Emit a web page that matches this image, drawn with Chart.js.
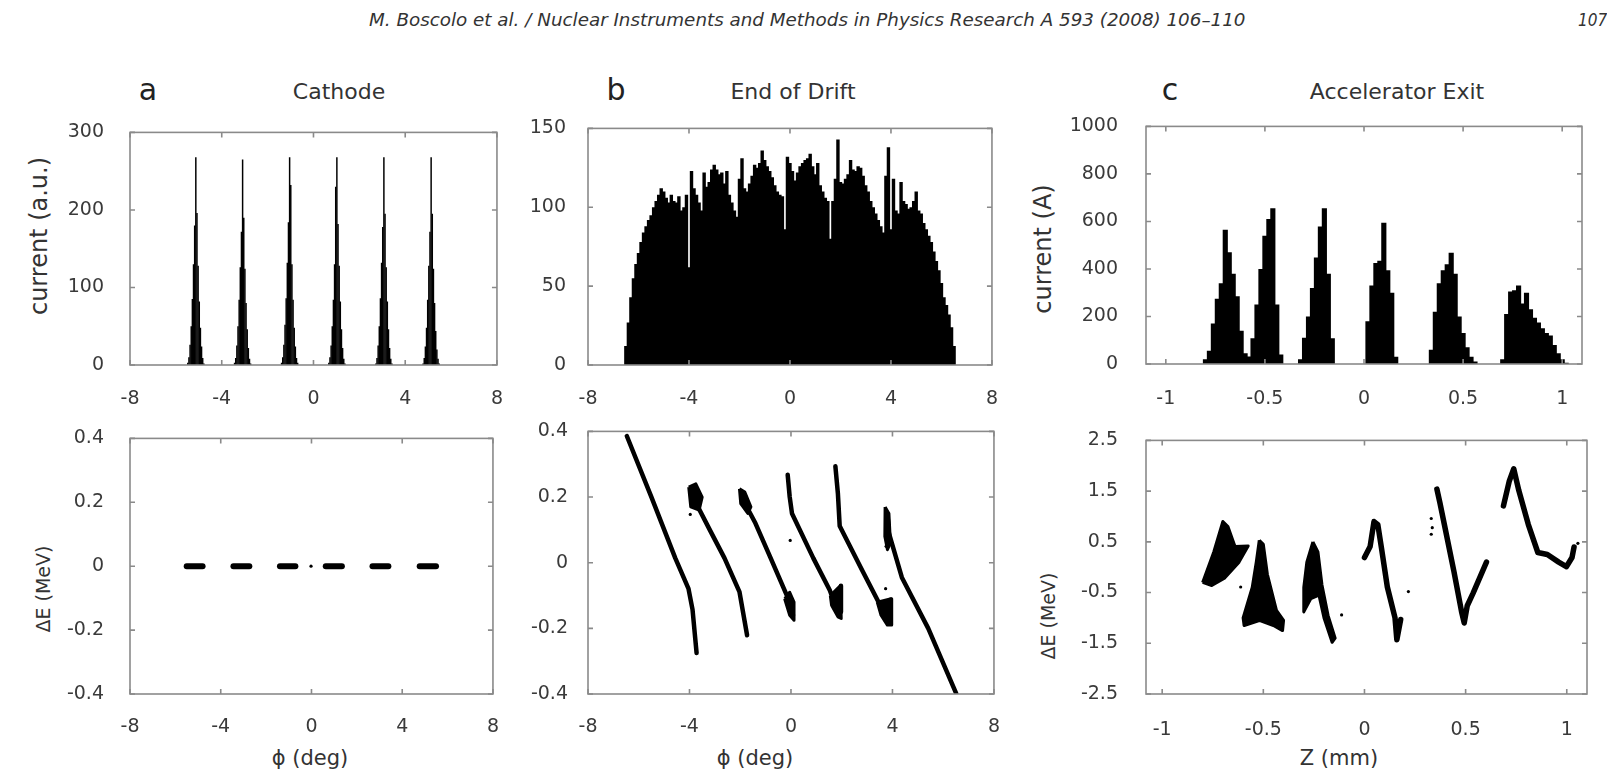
<!DOCTYPE html>
<html>
<head>
<meta charset="utf-8">
<script src="https://cdn.jsdelivr.net/npm/chart.js@4.4.0/dist/chart.umd.min.js"></script>
<style>
  body { margin: 0; background: #fff; width: 1607px; height: 773px; overflow: hidden; position: relative; font-family: "DejaVu Sans", sans-serif; }
  canvas { position: absolute; }
  .lbl { position: absolute; transform: translate(-50%, -50%); white-space: nowrap; color: #333; line-height: 1; }
  .rot { transform: translate(-50%, -50%) rotate(-90deg); }
  .head { position: absolute; white-space: nowrap; font-style: italic; color: #333; line-height: 1;
          font-family: "Liberation Sans Narrow", "DejaVu Sans Condensed", "Liberation Sans", sans-serif; font-size: 17px; transform-origin: 0 50%; }
</style>
</head>
<body>

<div class="head" id="header" style="left:369px; top:12px;">M. Boscolo et al. / Nuclear Instruments and Methods in Physics Research A 593 (2008) 106–110</div>
<div class="head" style="left:1578px; top:12px;">107</div>

<!-- panel letters and titles -->
<div class="lbl" style="left:148px; top:90px; font-size:30px; color:#222;">a</div>
<div class="lbl" style="left:339px; top:92px; font-size:22px;">Cathode</div>
<div class="lbl" style="left:616px; top:90px; font-size:30px; color:#222;">b</div>
<div class="lbl" style="left:793px; top:92px; font-size:22px;">End of Drift</div>
<div class="lbl" style="left:1170px; top:90px; font-size:30px; color:#222;">c</div>
<div class="lbl" style="left:1397px; top:92px; font-size:22px;">Accelerator Exit</div>

<!-- axis titles -->
<div class="lbl rot" style="left:39px; top:236px; font-size:24px;">current (a.u.)</div>
<div class="lbl rot" style="left:1043px; top:249px; font-size:24px;">current (A)</div>
<div class="lbl rot" style="left:43px; top:589px; font-size:19px;">ΔE (MeV)</div>
<div class="lbl rot" style="left:1048px; top:616px; font-size:19px;">ΔE (MeV)</div>
<div class="lbl" style="left:310px; top:758px; font-size:21px;">ϕ (deg)</div>
<div class="lbl" style="left:755px; top:758px; font-size:21px;">ϕ (deg)</div>
<div class="lbl" style="left:1339px; top:758px; font-size:21px;">Z (mm)</div>

<script>
// Tick values
const phiTicks = [-8, -4, 0, 4, 8];
const zTicks = [-1, -0.5, 0, 0.5, 1];
const cathodeCurrentTicks = [0, 100, 200, 300];
const driftCurrentTicks = [0, 50, 100, 150];
const accelCurrentTicks = [0, 200, 400, 600, 800, 1000];
const phiEnergyTicks = [-0.4, -0.2, 0, 0.2, 0.4];
const zEnergyTicks = [-2.5, -1.5, -0.5, 0.5, 1.5, 2.5];

// (a) Cathode: six bunchlets, 15 bins of 0.05 deg around each centre
const cathodeCenters = [-5.13, -3.09, -1.04, 1.02, 3.07, 5.13];
const cathodeBinWidth = 0.05;
const cathodeCounts = [
    [3, 10, 26, 50, 85, 130, 180, 268, 196, 128, 82, 48, 24, 9, 2],
    [3, 9, 25, 50, 84, 126, 172, 265, 190, 124, 80, 46, 22, 8, 2],
    [3, 10, 26, 52, 86, 132, 184, 268, 232, 130, 84, 48, 24, 9, 3],
    [3, 10, 25, 50, 84, 130, 230, 268, 182, 128, 82, 46, 22, 8, 2],
    [2, 9, 25, 50, 86, 132, 178, 268, 195, 126, 82, 46, 22, 8, 2],
    [2, 9, 24, 48, 84, 128, 172, 268, 195, 124, 80, 44, 20, 8, 2]
];

// (b) End of drift: bins of 0.1 deg from -6.5 to 6.5
const driftBinStart = -6.5;
const driftBinWidth = 0.1;
const driftCounts = [
    12, 27, 43, 55, 64, 71, 78, 84, 88, 92,
    95, 100, 104, 108, 112, 110, 106, 103, 108, 104,
    103, 107, 98, 100, 108, 62, 123, 112, 108, 103,
    98, 122, 113, 116, 124, 127, 124, 121, 122, 115,
    123, 108, 103, 98, 94, 118, 131, 112, 110, 115,
    120, 127, 125, 128, 136, 130, 126, 123, 119, 114,
    110, 108, 107, 86, 132, 128, 123, 117, 122, 126,
    128, 130, 131, 134, 126, 121, 128, 114, 110, 106,
    104, 80, 104, 118, 143, 116, 115, 118, 121, 130,
    124, 123, 126, 125, 120, 114, 110, 104, 100, 96,
    92, 88, 84, 120, 138, 86, 118, 98, 96, 116,
    104, 102, 99, 100, 104, 110, 98, 96, 90, 86,
    82, 78, 72, 66, 60, 52, 43, 38, 32, 24,
    12
];

// (c) Accelerator exit: bins of 0.02 mm from -0.82 to 1.04
const accelBinStart = -0.82;
const accelBinWidth = 0.02;
const accelCounts = [
    0, 20, 56, 170, 275, 340, 565, 470, 380, 285,
    140, 45, 32, 108, 250, 400, 540, 610, 655, 250,
    40, 0, 0, 0, 0, 20, 110, 200, 320, 448,
    579, 655, 380, 108, 0, 0, 0, 0, 0, 0,
    0, 0, 180, 330, 425, 435, 595, 395, 300, 30,
    0, 0, 0, 0, 0, 0, 0, 0, 60, 220,
    340, 395, 420, 468, 380, 200, 130, 70, 30, 10,
    0, 0, 0, 0, 0, 0, 20, 210, 305, 310,
    330, 255, 300, 230, 195, 175, 150, 130, 120, 80,
    45, 20, 5, 0
];

// Longitudinal phase space at the cathode: flat dashes at dE = 0
const cathodeDashStart = [-5.50, -3.44, -1.39, 0.63, 2.69, 4.77];
const cathodeDashEnd = [-4.80, -2.74, -0.71, 1.34, 3.39, 5.49];
const cathodeDots = [[-0.02, 0]];

// End of drift: streaks [phi, dE]
const driftStreaks = [
    [[-6.47, 0.386], [-5.5, 0.20], [-4.56, 0.014], [-4.04, -0.079], [-3.88, -0.143], [-3.72, -0.275]],
    [[-3.80, 0.19], [-3.2, 0.10], [-2.62, 0.014], [-2.03, -0.089], [-1.73, -0.221]],
    [[-1.95, 0.20], [-1.40, 0.12], [-0.80, 0.014], [-0.16, -0.10], [0.08, -0.16]],
    [[-0.13, 0.268], [-0.05, 0.20], [0.04, 0.15], [0.88, 0.014], [1.53, -0.084], [1.85, -0.152], [1.97, -0.15], [1.97, -0.07]],
    [[1.75, 0.294], [1.85, 0.21], [1.92, 0.112], [2.82, -0.025], [3.47, -0.123], [3.86, -0.182], [3.92, -0.113]],
    [[3.80, 0.15], [3.86, 0.09], [4.37, -0.045], [5.41, -0.20], [6.51, -0.398]]
];
const driftBlobs = [
    [[-4.03, 0.23], [-3.75, 0.24], [-3.50, 0.20], [-3.62, 0.16], [-3.95, 0.17]],
    [[-2.03, 0.225], [-1.82, 0.215], [-1.58, 0.17], [-1.70, 0.15], [-1.98, 0.18]],
    [[-0.25, -0.11], [-0.05, -0.09], [0.12, -0.12], [0.12, -0.175], [-0.05, -0.16]],
    [[1.55, -0.10], [1.95, -0.07], [1.98, -0.17], [1.85, -0.165], [1.60, -0.13]],
    [[3.40, -0.12], [3.95, -0.11], [3.97, -0.19], [3.80, -0.19], [3.55, -0.16]],
    [[3.71, 0.17], [3.86, 0.15], [3.92, 0.06], [3.80, 0.04], [3.70, 0.08]]
];
const driftDots = [[-3.97, 0.147], [-0.03, 0.068], [3.73, -0.079], [3.75, 0.05]];

// Accelerator exit: streaks and filled bunches [z, dE]
const accelStreaks = [
    [[0.0, 0.19], [0.028, 0.41], [0.047, 0.90], [0.066, 0.84], [0.085, 0.35], [0.113, -0.39], [0.151, -1.0], [0.160, -1.43], [0.179, -1.03]],
    [[0.358, 1.54], [0.373, 1.27], [0.395, 0.84], [0.442, -0.08], [0.480, -0.88], [0.493, -1.10], [0.508, -0.76], [0.537, -0.51], [0.603, 0.10]],
    [[0.687, 1.21], [0.716, 1.70], [0.738, 1.94], [0.763, 1.51], [0.810, 0.84], [0.857, 0.29], [0.904, 0.25], [0.960, 0.10], [0.998, 0.01], [1.026, 0.19], [1.036, 0.40]]
];
const accelBlobs = [
    [[-0.80, -0.30], [-0.745, 0.30], [-0.70, 0.90], [-0.675, 0.80], [-0.64, 0.41], [-0.575, 0.42], [-0.62, 0.10], [-0.69, -0.21], [-0.755, -0.36]],
    [[-0.52, 0.53], [-0.50, 0.45], [-0.48, -0.14], [-0.435, -0.85], [-0.40, -1.05], [-0.405, -1.25], [-0.45, -1.15], [-0.52, -1.05], [-0.595, -1.15], [-0.60, -1.0], [-0.555, -0.4], [-0.535, 0.1]],
    [[-0.255, 0.50], [-0.23, 0.30], [-0.21, -0.35], [-0.18, -0.95], [-0.145, -1.40], [-0.16, -1.48], [-0.20, -1.0], [-0.225, -0.55], [-0.265, -0.62], [-0.30, -0.88], [-0.30, -0.40], [-0.285, 0.10]]
];
const accelDots = [[-0.612, -0.39], [-0.113, -0.94], [0.217, -0.48], [1.055, 0.47], [0.33, 0.96], [0.335, 0.78], [0.33, 0.65]];

// ---- layout ----
const YW = 80, XH = 45, PT = 14, PR = 14;
const TICK_FONT = { family: 'DejaVu Sans', size: 19 };
const TICK_COLOR = '#3a3a3a';

// draws the grey box and the short inward tick marks on all four sides
const framePlugin = {
    id: 'frame',
    afterDraw(chart) {
        const { ctx, chartArea: a, scales } = chart;
        ctx.save();
        ctx.strokeStyle = '#8a8a8a';
        ctx.lineWidth = 1.6;
        ctx.strokeRect(a.left, a.top, a.right - a.left, a.bottom - a.top);
        ctx.beginPath();
        const t = 5;
        scales.x.ticks.forEach(tk => {
            const px = scales.x.getPixelForValue(tk.value);
            ctx.moveTo(px, a.bottom); ctx.lineTo(px, a.bottom - t);
            ctx.moveTo(px, a.top); ctx.lineTo(px, a.top + t);
        });
        scales.y.ticks.forEach(tk => {
            const py = scales.y.getPixelForValue(tk.value);
            ctx.moveTo(a.left, py); ctx.lineTo(a.left + t, py);
            ctx.moveTo(a.right, py); ctx.lineTo(a.right - t, py);
        });
        ctx.stroke();
        ctx.restore();
    }
};

function makeCanvas(g) {
    const c = document.createElement('canvas');
    c.width = (g.R - g.L) + YW + PR;
    c.height = (g.B - g.T) + PT + XH;
    c.style.left = (g.L - YW) + 'px';
    c.style.top = (g.T - PT) + 'px';
    document.body.appendChild(c);
    return c;
}

function scaleOptions(g, xRange, yRange, xTicks, yTicks) {
    return {
        x: {
            type: 'linear', min: xRange[0], max: xRange[1], offset: false,
            grid: { display: false }, border: { display: false },
            ticks: { color: TICK_COLOR, font: TICK_FONT, padding: g.padX, maxRotation: 0, autoSkip: false, callback: v => String(v) },
            afterBuildTicks: s => { s.ticks = xTicks.map(v => ({ value: v })); },
            afterFit: s => { s.height = XH; }
        },
        y: {
            type: 'linear', min: yRange[0], max: yRange[1],
            grid: { display: false }, border: { display: false },
            ticks: { color: TICK_COLOR, font: TICK_FONT, padding: g.padY, autoSkip: false, callback: v => String(v) },
            afterBuildTicks: s => { s.ticks = yTicks.map(v => ({ value: v })); },
            afterFit: s => { s.width = YW; }
        }
    };
}

function baseOptions(g, scales) {
    return {
        responsive: false,
        animation: false,
        events: [],
        layout: { padding: { top: PT, right: PR, left: 0, bottom: 0 } },
        plugins: { legend: { display: false }, tooltip: { enabled: false } },
        scales: scales
    };
}

// barPercentage above 1 lets neighbouring bins overlap so no white seams show
function histogram(g, bars, widen, xRange, yRange, xTicks, yTicks) {
    new Chart(makeCanvas(g), {
        type: 'bar',
        data: {
            datasets: [{
                data: bars,
                backgroundColor: '#000',
                borderWidth: 0,
                barPercentage: widen,
                categoryPercentage: 1,
                grouped: false
            }]
        },
        options: baseOptions(g, scaleOptions(g, xRange, yRange, xTicks, yTicks)),
        plugins: [framePlugin]
    });
}

function phaseSpace(g, streaks, blobs, dots, width, xRange, yRange, xTicks, yTicks) {
    const toXY = pts => pts.map(p => ({ x: p[0], y: p[1] }));
    const datasets = [];
    streaks.forEach(s => datasets.push({
        data: toXY(s), showLine: true, borderColor: '#000', borderWidth: width,
        borderCapStyle: 'round', borderJoinStyle: 'round', pointRadius: 0, fill: false
    }));
    blobs.forEach(b => datasets.push({
        data: toXY(b.concat([b[0]])), showLine: true, borderColor: '#000', borderWidth: 3,
        borderJoinStyle: 'round', backgroundColor: '#000', pointRadius: 0, fill: 'shape'
    }));
    datasets.push({ data: toXY(dots), showLine: false, pointRadius: 1.6, backgroundColor: '#000', borderWidth: 0 });
    new Chart(makeCanvas(g), {
        type: 'scatter',
        data: { datasets: datasets },
        options: baseOptions(g, scaleOptions(g, xRange, yRange, xTicks, yTicks)),
        plugins: [framePlugin]
    });
}

// build bar tables from the binned counts
const cathodeBars = [];
cathodeCenters.forEach((c, k) => {
    cathodeCounts[k].forEach((n, i) => cathodeBars.push({ x: c + (i - 7) * cathodeBinWidth, y: n }));
});
const driftBars = driftCounts.map((n, i) => ({ x: driftBinStart + i * driftBinWidth, y: n }));
const accelBars = accelCounts.map((n, i) => ({ x: accelBinStart + i * accelBinWidth, y: n }));
const cathodeDashes = cathodeDashStart.map((s, i) => [[s, 0], [cathodeDashEnd[i], 0]]);

histogram({ L: 130, T: 117, R: 504, B: 365, padY: 18, padX: 15 }, cathodeBars, 1.3, [-8, 8], [0, 300], phiTicks, cathodeCurrentTicks);
histogram({ L: 588, T: 117, R: 999, B: 365, padY: 14, padX: 15 }, driftBars, 1.35, [-8, 8], [0, 150], phiTicks, driftCurrentTicks);
histogram({ L: 1146, T: 109, R: 1582, B: 364, padY: 20, padX: 16 }, accelBars, 1.3, [-1.1, 1.1], [0, 1000], zTicks, accelCurrentTicks);

phaseSpace({ L: 130, T: 423, R: 499, B: 694, padY: 18, padX: 14 }, cathodeDashes, [], cathodeDots, 6, [-8, 8], [-0.4, 0.4], phiTicks, phiEnergyTicks);
phaseSpace({ L: 588, T: 422, R: 1000, B: 694, padY: 12, padX: 14 }, driftStreaks, driftBlobs, driftDots, 4.5, [-8, 8], [-0.4, 0.4], phiTicks, phiEnergyTicks);
phaseSpace({ L: 1146, T: 423, R: 1587, B: 694, padY: 20, padX: 17 }, accelStreaks, accelBlobs, accelDots, 5.5, [-1.08, 1.1], [-2.5, 2.5], zTicks, zEnergyTicks);

// squeeze the running header to the width it has in the page
const header = document.getElementById('header');
header.style.transform = 'scaleX(' + (876 / header.offsetWidth) + ')';
</script>
</body>
</html>
